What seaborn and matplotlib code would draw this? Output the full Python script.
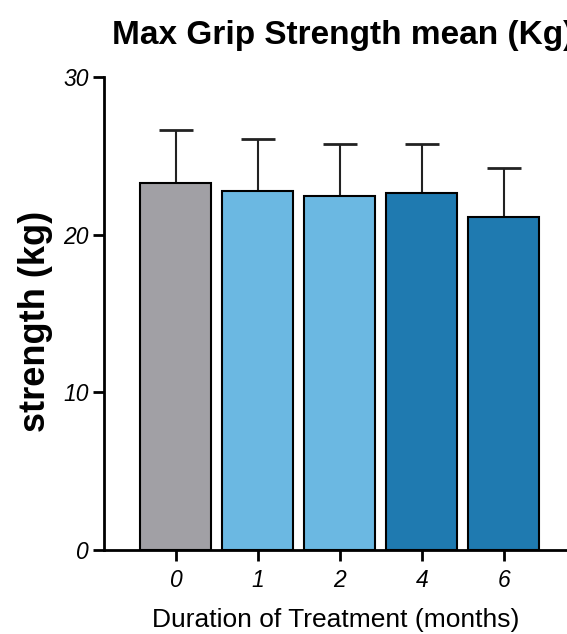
import matplotlib
matplotlib.use("Agg")
import matplotlib.pyplot as plt
import seaborn as sns
import numpy as np
import pandas as pd

months = ["0", "1", "2", "4", "6"]
means = [23.3, 22.8, 22.45, 22.65, 21.1]
sds = [3.35, 3.25, 3.3, 3.1, 3.1]
colors = ["#A1A0A5", "#6BB8E2", "#6BB8E2", "#1F7AB0", "#1F7AB0"]
yticks = [0, 10, 20, 30]

sns.set_style("white")
plt.rcParams['font.family'] = ['Liberation Sans', 'DejaVu Sans']
plt.rcParams['text.color'] = 'black'
plt.rcParams['axes.labelcolor'] = 'black'
plt.rcParams['xtick.color'] = 'black'
plt.rcParams['ytick.color'] = 'black'

df = pd.DataFrame({"month": months, "mean": means})

fig = plt.figure(figsize=(5.67, 6.34), dpi=100)
ax = fig.add_axes([104/567, 1-550/634, 1-104/567, (550-77)/634])

sns.barplot(data=df, x="month", y="mean", hue="month", palette=colors,
            legend=False, ax=ax, width=0.866, edgecolor="black", linewidth=1.5,
            saturation=1, errorbar=None, zorder=3)
ax.errorbar(np.arange(len(means)), means, yerr=[np.zeros(len(sds)), sds],
            fmt="none", ecolor="#222222", elinewidth=1.5, capsize=12.5,
            capthick=2, zorder=2)

ax.set_ylim(0, 30)
ax.set_xlim(-0.878, 4.77)
ax.set_yticks(yticks)
ax.set_yticklabels([str(t) for t in yticks], fontsize=16.5, style="italic")
ax.set_xticks(range(len(months)))
ax.set_xticklabels(months, fontsize=16.5, style="italic")
ax.tick_params(axis="both", direction="out", length=8, width=2,
               bottom=True, left=True, pad=3)
ax.tick_params(axis="x", pad=6)

for s in ["top", "right"]:
    ax.spines[s].set_visible(False)
for s in ["left", "bottom"]:
    ax.spines[s].set_linewidth(2)
    ax.spines[s].set_color("black")

ax.set_xlabel("Duration of Treatment (months)", fontsize=19, labelpad=11)
ax.set_ylabel("strength (kg)", fontsize=26, fontweight="bold")
ax.yaxis.set_label_coords(-0.11, 0.484)
ax.set_title("Max Grip Strength mean (Kg)", fontsize=24, fontweight="bold",
             pad=24, x=0.516)

fig.savefig("out.png", dpi=100)
